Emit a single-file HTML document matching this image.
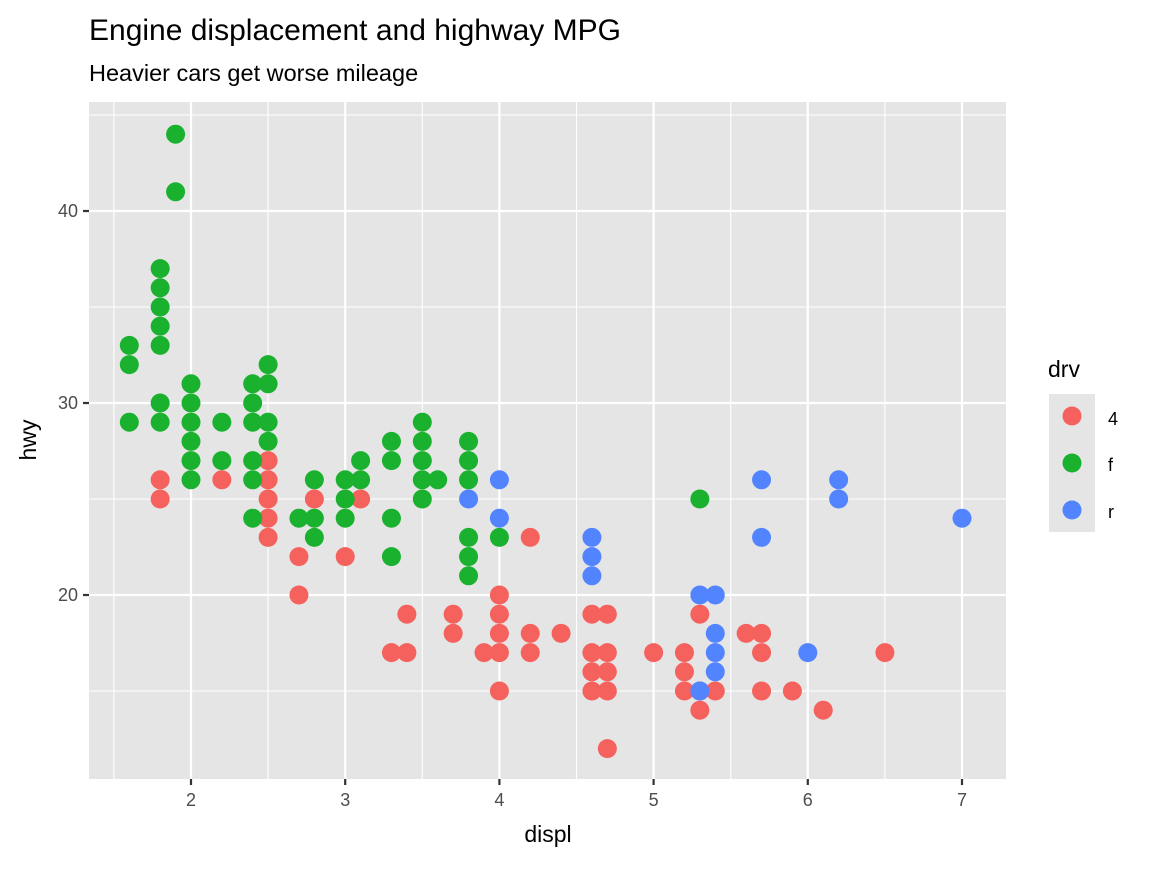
<!DOCTYPE html>
<html><head><meta charset="utf-8"><style>
body{margin:0;background:#fff}
text{font-family:"Liberation Sans",Arial,sans-serif}
</style></head><body>
<svg id="s" width="1152" height="864" xmlns="http://www.w3.org/2000/svg">
<text x="89" y="40" font-size="30" fill="#000">Engine displacement and highway MPG</text>
<text x="89" y="81" font-size="23.5" fill="#000">Heavier cars get worse mileage</text>
<rect x="89" y="102" width="917" height="677" fill="#e5e5e5"/>
<g id="grid"></g>
<g id="pts"></g>
<text x="548" y="842" font-size="23" text-anchor="middle">displ</text>
<text transform="translate(36,440) rotate(-90)" font-size="23" text-anchor="middle">hwy</text>
<text x="1048" y="377" font-size="23">drv</text>
<rect x="1049" y="394" width="46" height="138" fill="#e5e5e5"/>
<circle cx="1072" cy="416" r="9.5" fill="#F5615C"/>
<circle cx="1072" cy="463" r="9.5" fill="#1AB12F"/>
<circle cx="1072" cy="510" r="9.5" fill="#5384FF"/>
<text x="1108" y="425" font-size="18">4</text>
<text x="1108" y="471" font-size="18">f</text>
<text x="1108" y="518" font-size="18">r</text>
</svg>
<script>
var NS="http://www.w3.org/2000/svg";
function X(v){return 191+(v-2)*154.2}
function Y(v){return 595-(v-20)*19.2}
var g=document.getElementById("grid"),s=document.getElementById("s");
function el(p,t,a){var e=document.createElementNS(NS,t);for(var k in a)e.setAttribute(k,a[k]);if(a.txt){e.textContent=a.txt;e.removeAttribute("txt")}p.appendChild(e);return e}
[15,25,35,45].forEach(function(v){el(g,"line",{x1:89,x2:1006,y1:Y(v),y2:Y(v),stroke:"#fff","stroke-width":1.1})});
[1.5,2.5,3.5,4.5,5.5,6.5].forEach(function(v){el(g,"line",{y1:102,y2:779,x1:X(v),x2:X(v),stroke:"#fff","stroke-width":1.1})});
[20,30,40].forEach(function(v){el(g,"line",{x1:89,x2:1006,y1:Y(v),y2:Y(v),stroke:"#fff","stroke-width":2.2});
 el(s,"line",{x1:83,x2:89,y1:Y(v),y2:Y(v),stroke:"#333","stroke-width":2.2});
 el(s,"text",{x:78,y:Y(v)+6,"font-size":18,fill:"#4d4d4d","text-anchor":"end",txt:""+v})});
[2,3,4,5,6,7].forEach(function(v){el(g,"line",{y1:102,y2:779,x1:X(v),x2:X(v),stroke:"#fff","stroke-width":2.2});
 el(s,"line",{y1:779,y2:785,x1:X(v),x2:X(v),stroke:"#333","stroke-width":2.2});
 el(s,"text",{x:X(v),y:806,"font-size":18,fill:"#4d4d4d","text-anchor":"middle",txt:""+v})});
var R={1.8:[26,25],2.2:[26],2.5:[27,26,25,24,23],2.7:[22,20],2.8:[25],3.0:[22],3.1:[25],3.3:[17],3.4:[19,17],3.7:[19,18],3.9:[17],4.0:[20,19,18,17,15],4.2:[23,18,17],4.4:[18],4.6:[19,17,16,15],4.7:[19,17,16,15,12],5.0:[17],5.2:[17,16,15],5.3:[19,15,14],5.4:[15],5.6:[18],5.7:[18,17,15],5.9:[15],6.1:[14],6.5:[17]};
var G={1.6:[33,32,29],1.8:[37,36,35,34,33,30,29],1.9:[44,41],2.0:[31,30,29,28,27,26],2.2:[29,27],2.4:[31,30,29,27,26,24],2.5:[32,31,29,28],2.7:[24],2.8:[26,24,23],3.0:[26,25,24],3.1:[27,26],3.3:[28,27,24,22],3.5:[29,28,27,26,25],3.6:[26],3.8:[28,27,26,23,22,21],4.0:[23],5.3:[25]};
var B={3.8:[25],4.0:[26,24],4.6:[23,22,21],5.3:[20,15],5.4:[20,18,17,16],5.7:[26,23],6.0:[17],6.2:[26,25],7.0:[24]};
var p=document.getElementById("pts");
[[R,"#F5615C"],[G,"#1AB12F"],[B,"#5384FF"]].forEach(function(d){for(var k in d[0])d[0][k].forEach(function(v){el(p,"circle",{cx:X(+k),cy:Y(v),r:9.5,fill:d[1]})})});
</script>
</body></html>
